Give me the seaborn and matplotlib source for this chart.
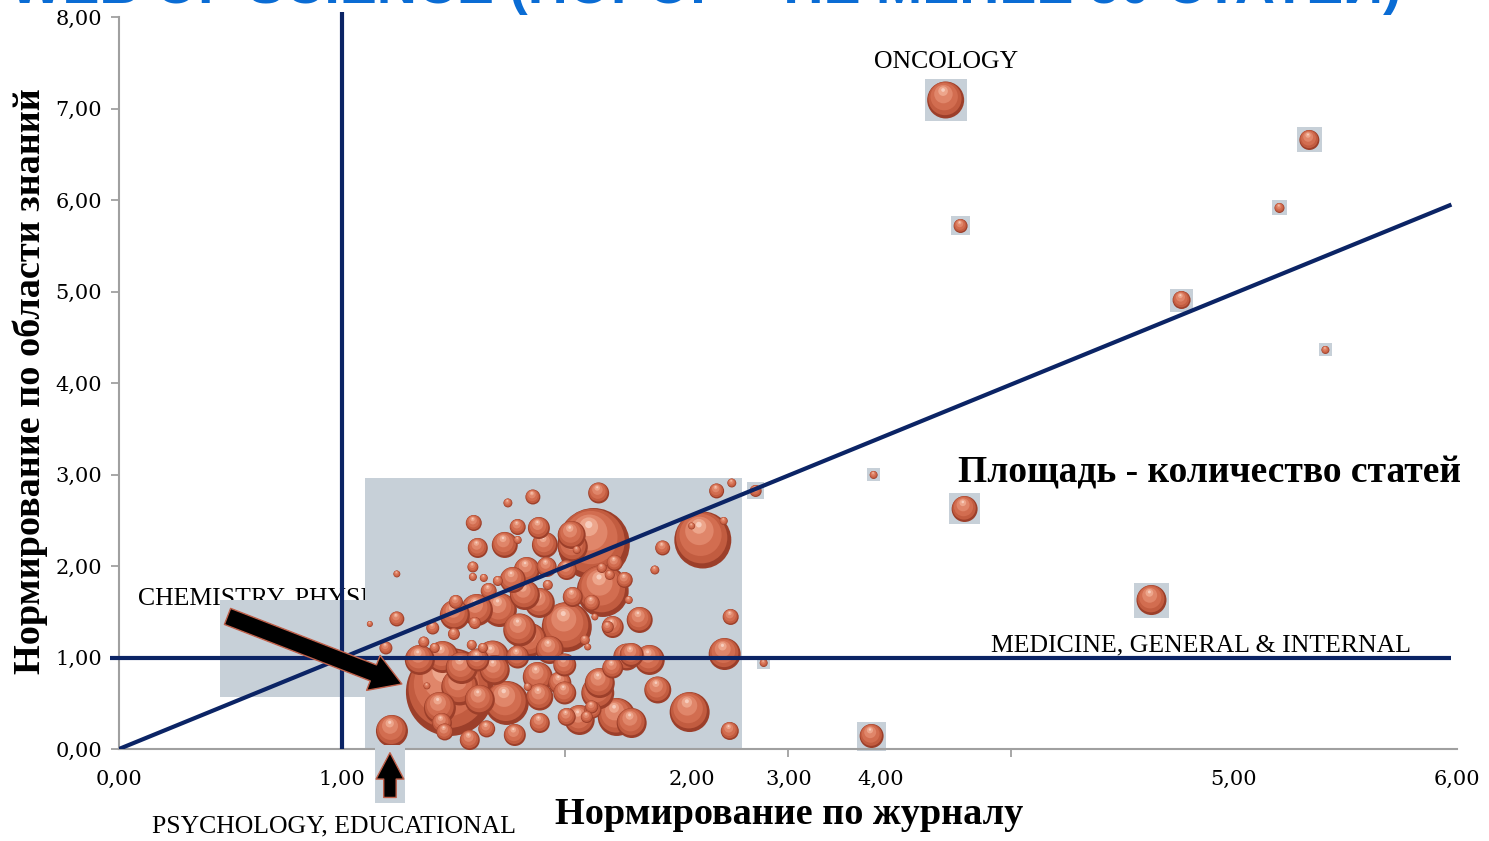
import numpy as np
import pandas as pd
import matplotlib
matplotlib.use("Agg")
import matplotlib.pyplot as plt
import seaborn as sns
from matplotlib.patches import Rectangle, FancyArrowPatch, ArrowStyle

# Пузыри в основном скоплении: нормирование по журналу, по области знаний, число статей
cluster_x = [1.484, 2.129, 2.618, 2.169, 2.008, 1.739, 2.559, 2.232, 1.528, 1.797,
             1.676, 1.605, 1.452, 2.716, 2.147, 1.439, 1.224, 1.887, 2.035, 1.878,
             2.156, 2.299, 1.685, 1.537, 2.277, 2.416, 1.829, 1.766, 1.887, 2.299,
             1.977, 1.788, 1.609, 1.999, 1.999, 2.214, 1.883, 2.151, 2.214, 2.035,
             2.008, 1.918, 1.609, 1.448, 1.887, 2.739, 2.030, 2.268, 2.223, 2.120,
             1.658, 1.591, 1.788, 1.246, 2.743, 1.856, 2.680, 2.438, 1.511, 1.197,
             1.407, 1.649, 1.461, 2.008, 2.125, 2.120, 1.502, 1.596, 2.192, 2.098,
             1.367, 1.587, 1.416, 1.582, 1.632, 1.699, 1.923, 2.089, 2.165, 2.201,
             2.748, 1.744, 2.403, 1.587, 1.636, 1.788, 2.712, 2.053, 2.286, 1.833,
             1.246, 1.125, 1.381, 2.568, 2.102, 2.134,
             1.708, 1.506, 1.842, 1.349, 1.618, 1.932, 1.730, 1.910, 2.335, 2.380,
             1.820, 2.066, 1.573, 1.775]
cluster_y = [0.623, 2.240, 2.284, 1.727, 1.333, 0.503, 0.404, 0.350, 0.678, 1.301,
             1.005, 1.519, 1.005, 1.038, 0.612, 0.448, 0.197, 1.596, 2.208, 0.787,
             0.721, 0.284, 0.863, 0.885, 1.005, 0.645, 1.956, 1.847, 0.568, 1.027,
             0.721, 1.005, 0.973, 0.918, 0.612, 1.333, 2.415, 2.798, 0.885, 1.661,
             1.956, 1.989, 2.197, 0.284, 0.284, 0.197, 2.339, 1.847, 2.033, 1.596,
             1.727, 2.470, 2.426, 1.421, 1.443, 2.754, 2.820, 2.197, 1.607, 1.104,
             1.322, 0.219, 0.186, 0.350, 0.426, 0.459, 1.257, 1.377, 1.333, 0.350,
             1.169, 1.989, 1.104, 1.137, 1.104, 1.836, 1.792, 1.191, 1.978, 1.902,
             2.907, 2.689, 1.956, 1.880, 1.869, 2.284, 2.492, 2.175, 1.628, 0.678,
             1.913, 1.366, 0.689, 2.437, 1.115, 1.443,
             1.519, 1.464, 1.191, 0.973, 0.536, 1.082, 2.230, 2.230, 1.410, 0.973,
             1.683, 0.317, 0.098, 0.153]
cluster_n = [3872, 2592, 1624, 1352, 1250, 968, 800, 722, 684, 544,
             544, 512, 512, 512, 544, 512, 512, 450, 450, 450,
             450, 450, 450, 512, 364, 364, 338, 338, 364, 288,
             264, 264, 264, 264, 264, 242, 242, 220, 220, 200,
             200, 200, 200, 200, 200, 162, 392, 128, 128, 128,
             128, 128, 128, 112, 128, 112, 112, 112, 98, 84,
             84, 144, 144, 162, 144, 84, 72, 72, 72, 72,
             60, 60, 50, 50, 50, 50, 50, 50, 50, 50,
             40, 40, 40, 32, 32, 32, 32, 32, 32, 32,
             24, 18, 24, 24, 24, 24,
             578, 450, 578, 450, 450, 392, 338, 338, 338, 450,
             450, 450, 200, 242]

# Отдельные области знаний вне скопления
single_x = [3.707, 3.774, 5.338, 5.204, 4.765, 5.410, 3.384, 3.792, 4.630, 3.375, 2.891, 2.855]
single_y = [7.093, 5.716, 6.656, 5.913, 4.907, 4.361, 2.995, 2.623, 1.628, 0.142, 0.940, 2.820]
single_n = [684, 98, 200, 50, 162, 32, 32, 338, 450, 288, 32, 72]

x_tick_pos = [0, 1, 2.568, 3.003, 3.415, 5, 6]
x_tick_labels = ["0,00", "1,00", "2,00", "3,00", "4,00", "5,00", "6,00"]
y_ticks = list(range(9))
y_tick_labels = [f"{v},00" for v in y_ticks]

sns.set_theme(style="white")
plt.rcParams["font.family"] = ["Liberation Serif", "DejaVu Serif"]
plt.rcParams["text.color"] = "black"
plt.rcParams["xtick.color"] = "black"
plt.rcParams["ytick.color"] = "black"

W, H, DPI = 1489, 841, 100
fig = plt.figure(figsize=(W / DPI, H / DPI), dpi=DPI)
ax = fig.add_axes([119 / W, 1 - 749 / H, (1457 - 119) / W, (749 - 17) / H])
ax.set_xlim(0, 6)
ax.set_ylim(0, 8)
px_x = (1457 - 119) / 6
px_y = (749 - 17) / 8

NAVY = "#0b2465"
BOX = "#c7d0d8"

# серые подложки
ax.add_patch(Rectangle((1.103, 0), 1.689, 2.962, color=BOX, zorder=2, lw=0))
ax.add_patch(Rectangle((0.453, 0.568), 0.65, 1.06, color=BOX, zorder=2, lw=0))

# квадратики под отдельными пузырями
sq = pd.DataFrame({"x": single_x, "y": single_y, "n": single_n})
sq["s"] = ((np.sqrt(2 * sq["n"]) + 5) * 0.72) ** 2
sns.scatterplot(data=sq, x="x", y="y", marker="s", s=sq["s"].values, color=BOX,
                linewidth=0, legend=False, ax=ax, zorder=2.5, clip_on=False)

# пузыри со "сферической" заливкой
bub = pd.DataFrame({"x": cluster_x + single_x, "y": cluster_y + single_y,
                    "n": cluster_n + single_n})
bub = bub.sort_values("n", ascending=False, kind="stable").reset_index(drop=True)
bub["d"] = np.sqrt(2 * bub["n"])
layers = [("l0", 1.0, 0.0, 0.0), ("l1", 0.9, -0.02, 0.04), ("l2", 0.74, -0.04, 0.09),
          ("l3", 0.5, -0.06, 0.16), ("l4", 0.26, -0.07, 0.24), ("l5", 0.1, -0.07, 0.27)]
palette = {"l0": "#9c3f2a", "l1": "#c25c40", "l2": "#d26d50", "l3": "#e0866a",
           "l4": "#eda68c", "l5": "#f7cdbd"}
rows = []
for _, b in bub.iterrows():
    for name, k, dx, dy in layers:
        rows.append({"x": b.x + dx * b.d / px_x, "y": b.y + dy * b.d / px_y,
                     "s": (0.72 * b.d * k) ** 2, "layer": name})
df = pd.DataFrame(rows)
sns.scatterplot(data=df, x="x", y="y", hue="layer", palette=palette, s=df["s"].values,
                linewidth=0, legend=False, ax=ax, zorder=3, clip_on=False)

# опорные линии
ax.plot([0, 5.975], [0, 5.95], color=NAVY, lw=3, zorder=4, solid_capstyle="butt")
ax.hlines(1, -0.04, 5.975, color=NAVY, lw=3, zorder=4, clip_on=False)
ax.vlines(1, 0, 8.05, color=NAVY, lw=3, zorder=4, clip_on=False)

# подписи
ax.text(0.085, 1.65, "CHEMISTRY, PHYSICAL", fontsize=18.5, ha="left", va="center", zorder=1.5)
ax.text(3.707, 7.51, "ONCOLOGY", fontsize=18.5, ha="center", va="center")
ax.text(3.909, 1.137, "MEDICINE, GENERAL & INTERNAL", fontsize=18.5, ha="left",
        va="center", zorder=5)
ax.text(3.761, 3.016, "Площадь - количество статей", fontsize=27, fontweight="bold",
        ha="left", va="center")

arrow1 = FancyArrowPatch((0.475, 1.46), (1.28, 0.70),
                         arrowstyle=ArrowStyle.Simple(head_length=1.1, head_width=1.35, tail_width=0.62),
                         mutation_scale=20, facecolor="black", edgecolor="#c0604a", lw=1, zorder=5)
ax.add_patch(arrow1)
ax.add_patch(Rectangle((1.148, -0.59), 0.134, 0.634, color=BOX, lw=0, zorder=5, clip_on=False))
arrow2 = FancyArrowPatch((1.215, -0.56), (1.215, -0.01),
                         arrowstyle=ArrowStyle.Simple(head_length=0.95, head_width=1.0, tail_width=0.45),
                         mutation_scale=20, facecolor="black", edgecolor="#c0604a", lw=1,
                         zorder=6, clip_on=False)
ax.add_patch(arrow2)

# оси
sns.despine(ax=ax)
for side in ["left", "bottom"]:
    ax.spines[side].set_color("#a0a0a0")
    ax.spines[side].set_linewidth(1.5)
ax.set_yticks(y_ticks, y_tick_labels)
ax.set_xticks(x_tick_pos, x_tick_labels)
ax.set_xticks(range(7), minor=True)
ax.tick_params(axis="y", which="major", left=True, length=6, width=1.3, color="#a0a0a0",
               labelcolor="black", pad=6, labelsize=15)
ax.tick_params(axis="x", which="major", bottom=True, length=0, pad=15,
               labelcolor="black", labelsize=15)
ax.tick_params(axis="x", which="minor", bottom=True, length=6, width=1.3, color="#a0a0a0")
for lab in ax.get_xticklabels() + ax.get_yticklabels():
    lab.set_family(["DejaVu Serif"])
ax.set_xlabel("")
ax.set_ylabel("")

fig.text(789 / W, 1 - 815 / H, "Нормирование по журналу", fontsize=27.5, fontweight="bold",
         ha="center", va="center")
fig.text(30 / W, 1 - 381 / H, "Нормирование по области знаний", fontsize=27.5,
         fontweight="bold", rotation=90, ha="center", va="center")
fig.text(152 / W, 1 - 826 / H, "PSYCHOLOGY, EDUCATIONAL", fontsize=18.5, ha="left", va="center")
fig.text(1402 / W, 1 - 3 / H, "WEB OF SCIENCE (ПОРОГ – НЕ МЕНЕЕ 50 СТАТЕЙ)", fontsize=40,
         fontweight="bold", color="#0a6cd4", ha="right", va="baseline",
         family=["Liberation Sans", "DejaVu Sans"])

fig.savefig("out.png", dpi=DPI)
